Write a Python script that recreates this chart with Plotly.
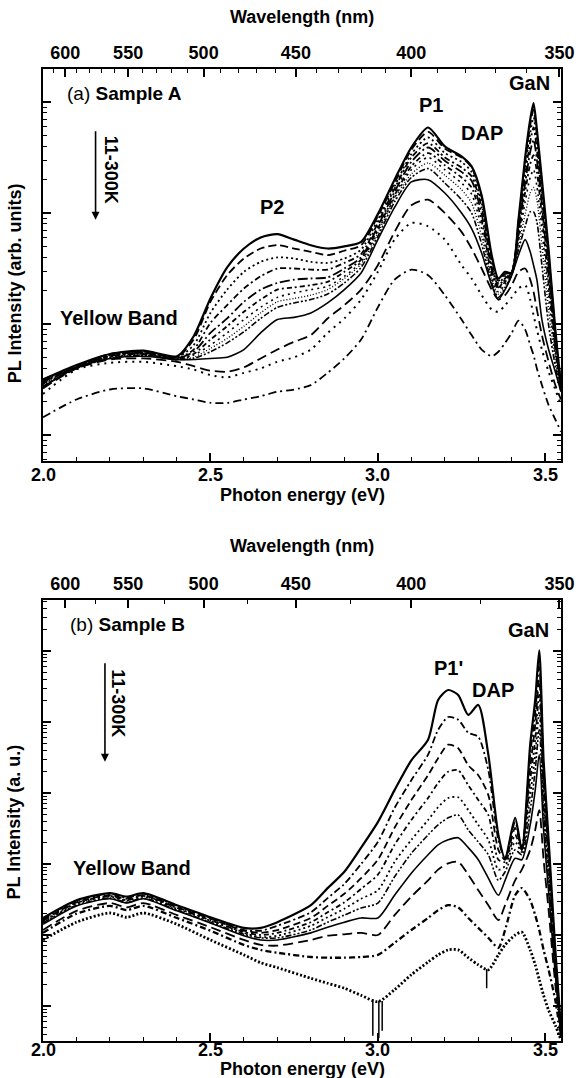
import numpy as np
import plotly.graph_objects as go

# ---------------- Panel (a): Sample A ----------------
# photon energy grid (eV)
energy_a = [2.00, 2.10, 2.20, 2.30, 2.40, 2.45, 2.50, 2.55, 2.60, 2.65, 2.70, 2.75, 2.80, 2.85,
            2.90, 2.95, 3.00, 3.05, 3.10, 3.15, 3.20, 3.25, 3.28, 3.31, 3.34, 3.36, 3.38, 3.40,
            3.42, 3.44, 3.455, 3.465, 3.475, 3.49, 3.51, 3.53, 3.547]
# log10 PL intensity (arb. units), 11 K (top) -> 300 K (bottom)
a_c1 = [0.50, 0.63, 0.73, 0.76, 0.71, 0.89, 1.23, 1.51, 1.68, 1.78, 1.81, 1.76, 1.71, 1.68, 1.70, 1.74, 1.99, 2.30, 2.59, 2.77, 2.60, 2.51, 2.42, 2.16, 1.62, 1.41, 1.47, 1.46, 1.94, 2.50, 2.84, 2.99, 2.75, 2.30, 1.67, 0.95, 0.45]
a_c2 = [0.50, 0.62, 0.73, 0.75, 0.70, 0.86, 1.20, 1.44, 1.59, 1.68, 1.71, 1.68, 1.65, 1.62, 1.66, 1.71, 1.97, 2.27, 2.57, 2.73, 2.58, 2.50, 2.41, 2.14, 1.59, 1.39, 1.45, 1.47, 1.92, 2.46, 2.79, 2.93, 2.70, 2.25, 1.62, 0.93, 0.44]
a_c3 = [0.50, 0.62, 0.72, 0.75, 0.70, 0.81, 1.10, 1.31, 1.47, 1.56, 1.60, 1.59, 1.56, 1.55, 1.59, 1.67, 1.94, 2.24, 2.53, 2.68, 2.54, 2.46, 2.37, 2.09, 1.56, 1.37, 1.43, 1.47, 1.89, 2.41, 2.72, 2.86, 2.64, 2.21, 1.58, 0.90, 0.44]
a_c4 = [0.49, 0.61, 0.72, 0.74, 0.69, 0.77, 1.01, 1.17, 1.32, 1.43, 1.50, 1.50, 1.49, 1.49, 1.55, 1.63, 1.91, 2.22, 2.50, 2.63, 2.50, 2.41, 2.33, 2.05, 1.52, 1.35, 1.41, 1.47, 1.86, 2.34, 2.64, 2.77, 2.57, 2.14, 1.51, 0.86, 0.43]
a_c5 = [0.48, 0.61, 0.71, 0.74, 0.69, 0.75, 0.92, 1.05, 1.20, 1.31, 1.37, 1.40, 1.41, 1.42, 1.50, 1.60, 1.88, 2.19, 2.46, 2.59, 2.47, 2.37, 2.29, 1.99, 1.49, 1.33, 1.40, 1.46, 1.83, 2.27, 2.55, 2.66, 2.48, 2.07, 1.44, 0.81, 0.42]
a_c6 = [0.47, 0.61, 0.71, 0.73, 0.68, 0.73, 0.86, 0.98, 1.11, 1.22, 1.31, 1.33, 1.35, 1.38, 1.47, 1.58, 1.86, 2.16, 2.42, 2.54, 2.43, 2.32, 2.23, 1.93, 1.45, 1.32, 1.38, 1.46, 1.79, 2.19, 2.44, 2.52, 2.37, 1.98, 1.35, 0.77, 0.41]
a_c7 = [0.46, 0.60, 0.70, 0.73, 0.68, 0.72, 0.81, 0.92, 1.04, 1.15, 1.24, 1.28, 1.31, 1.34, 1.43, 1.56, 1.84, 2.14, 2.39, 2.50, 2.39, 2.27, 2.17, 1.86, 1.41, 1.29, 1.36, 1.45, 1.75, 2.10, 2.32, 2.39, 2.24, 1.86, 1.25, 0.72, 0.41]
a_c8 = [0.45, 0.60, 0.70, 0.72, 0.68, 0.70, 0.78, 0.87, 0.98, 1.10, 1.20, 1.23, 1.26, 1.31, 1.41, 1.54, 1.82, 2.13, 2.35, 2.45, 2.34, 2.21, 2.09, 1.79, 1.40, 1.27, 1.34, 1.45, 1.70, 1.99, 2.18, 2.23, 2.12, 1.71, 1.13, 0.68, 0.40]
a_c9 = [0.44, 0.60, 0.69, 0.72, 0.68, 0.69, 0.75, 0.83, 0.93, 1.05, 1.15, 1.19, 1.22, 1.27, 1.37, 1.51, 1.79, 2.10, 2.32, 2.40, 2.27, 2.12, 2.00, 1.72, 1.37, 1.24, 1.32, 1.44, 1.67, 1.88, 2.01, 2.01, 1.92, 1.53, 0.99, 0.62, 0.39]
a_c10 = [0.43, 0.61, 0.69, 0.71, 0.68, 0.68, 0.69, 0.70, 0.77, 0.92, 1.04, 1.06, 1.10, 1.19, 1.31, 1.46, 1.76, 2.05, 2.28, 2.30, 2.18, 2.00, 1.86, 1.64, 1.35, 1.22, 1.31, 1.44, 1.62, 1.76, 1.65, 1.53, 1.40, 1.04, 0.77, 0.57, 0.39]
a_c11 = [0.42, 0.60, 0.68, 0.69, 0.66, 0.62, 0.58, 0.57, 0.61, 0.69, 0.77, 0.84, 0.90, 1.05, 1.17, 1.31, 1.53, 1.83, 2.07, 2.12, 2.00, 1.83, 1.68, 1.50, 1.31, 1.22, 1.26, 1.35, 1.47, 1.50, 1.40, 1.29, 1.13, 0.90, 0.66, 0.45, 0.32]
a_c12 = [0.37, 0.59, 0.65, 0.66, 0.62, 0.59, 0.54, 0.52, 0.56, 0.60, 0.66, 0.70, 0.77, 0.92, 1.05, 1.22, 1.47, 1.76, 1.91, 1.88, 1.76, 1.53, 1.41, 1.26, 1.13, 1.11, 1.17, 1.24, 1.32, 1.35, 1.22, 1.08, 0.95, 0.77, 0.57, 0.41, 0.27]
a_c13 = [0.16, 0.32, 0.41, 0.42, 0.35, 0.32, 0.29, 0.29, 0.32, 0.35, 0.39, 0.41, 0.45, 0.56, 0.69, 0.86, 1.15, 1.40, 1.49, 1.44, 1.26, 1.04, 0.90, 0.77, 0.71, 0.75, 0.83, 0.92, 1.03, 0.95, 0.81, 0.72, 0.60, 0.45, 0.27, 0.14, 0.03]

# ---------------- Panel (b): Sample B ----------------
energy_b = [2.00, 2.10, 2.20, 2.25, 2.30, 2.40, 2.50, 2.60, 2.65, 2.70, 2.80, 2.85, 2.90, 2.95,
            3.00, 3.05, 3.10, 3.15, 3.18, 3.21, 3.24, 3.27, 3.30, 3.33, 3.36, 3.38, 3.41, 3.43,
            3.455, 3.47, 3.482, 3.495, 3.51, 3.53, 3.547]
b_c1 = [1.24, 1.49, 1.59, 1.54, 1.59, 1.42, 1.25, 1.10, 1.10, 1.18, 1.42, 1.66, 1.89, 2.23, 2.59, 3.04, 3.46, 3.75, 4.31, 4.45, 4.38, 4.10, 4.24, 3.54, 2.41, 2.08, 2.65, 2.20, 3.68, 4.31, 5.01, 3.46, 2.34, 0.79, -0.34]
b_c2 = [1.23, 1.48, 1.58, 1.52, 1.58, 1.41, 1.24, 1.07, 1.06, 1.13, 1.32, 1.52, 1.72, 2.00, 2.31, 2.79, 3.18, 3.54, 3.89, 4.07, 4.03, 3.85, 3.79, 3.32, 2.34, 2.08, 2.59, 2.23, 3.54, 4.14, 4.80, 3.32, 2.23, 0.72, -0.34]
b_c3 = [1.21, 1.46, 1.56, 1.51, 1.56, 1.39, 1.23, 1.06, 1.03, 1.07, 1.24, 1.41, 1.58, 1.80, 2.06, 2.51, 2.90, 3.25, 3.49, 3.68, 3.63, 3.39, 3.25, 2.97, 2.20, 2.06, 2.51, 2.23, 3.35, 3.96, 4.59, 3.18, 2.13, 0.68, -0.35]
b_c4 = [1.20, 1.45, 1.55, 1.49, 1.55, 1.38, 1.21, 1.04, 1.00, 1.03, 1.18, 1.32, 1.46, 1.65, 1.85, 2.27, 2.62, 2.93, 3.14, 3.30, 3.32, 3.11, 2.90, 2.69, 2.06, 2.03, 2.41, 2.20, 3.18, 3.75, 4.38, 3.04, 2.03, 0.62, -0.37]
b_c5 = [1.18, 1.44, 1.54, 1.48, 1.54, 1.37, 1.20, 1.03, 0.97, 0.99, 1.13, 1.25, 1.37, 1.51, 1.63, 2.03, 2.34, 2.62, 2.80, 2.93, 2.94, 2.76, 2.55, 2.34, 1.92, 1.97, 2.31, 2.17, 2.97, 3.54, 4.14, 2.90, 1.92, 0.56, -0.38]
b_c6 = [1.17, 1.42, 1.52, 1.46, 1.52, 1.35, 1.18, 1.01, 0.96, 0.96, 1.07, 1.18, 1.28, 1.38, 1.45, 1.82, 2.15, 2.41, 2.55, 2.65, 2.69, 2.48, 2.31, 2.13, 1.77, 1.89, 2.20, 2.13, 2.76, 3.32, 3.89, 2.73, 1.77, 0.51, -0.39]
b_c7 = [1.15, 1.41, 1.51, 1.45, 1.51, 1.34, 1.17, 0.99, 0.93, 0.93, 1.03, 1.11, 1.18, 1.24, 1.24, 1.56, 1.87, 2.13, 2.27, 2.34, 2.37, 2.23, 2.06, 1.80, 1.56, 1.77, 2.08, 2.06, 2.55, 3.04, 3.54, 2.48, 1.61, 0.44, -0.41]
b_c8 = [1.07, 1.34, 1.45, 1.39, 1.45, 1.28, 1.11, 0.93, 0.86, 0.85, 0.93, 0.99, 1.01, 1.03, 1.00, 1.28, 1.54, 1.77, 1.92, 2.01, 2.03, 1.85, 1.63, 1.42, 1.21, 1.42, 1.77, 1.92, 2.20, 2.48, 2.76, 2.06, 1.35, 0.30, -0.42]
b_c9 = [1.03, 1.30, 1.41, 1.35, 1.41, 1.24, 1.06, 0.86, 0.79, 0.75, 0.69, 0.68, 0.68, 0.69, 0.72, 0.89, 1.07, 1.24, 1.35, 1.42, 1.39, 1.24, 1.10, 0.96, 0.82, 1.07, 1.56, 1.66, 1.49, 1.28, 1.07, 0.79, 0.51, 0.08, -0.44]
b_c10 = [0.93, 1.18, 1.31, 1.25, 1.31, 1.15, 0.93, 0.72, 0.61, 0.54, 0.39, 0.32, 0.25, 0.15, 0.06, 0.23, 0.44, 0.62, 0.72, 0.79, 0.79, 0.68, 0.58, 0.51, 0.72, 0.86, 1.00, 1.04, 0.79, 0.58, 0.37, 0.15, -0.06, -0.27, -0.48]
# noise spikes on the 300 K trace of sample B
spike_energy = [2.985, 3.003, 3.013, 3.325]
spike_top = [0.10, 0.07, 0.07, 0.52]
spike_bottom = [-0.42, -0.45, -0.35, 0.25]

# axis tick labels
energy_ticks = [2.0, 2.5, 3.0, 3.5]
energy_ticktext = ["2.0", "2.5", "3.0", "3.5"]
wavelength_major = [600, 550, 500, 450, 400, 350]

HC = 1239.84  # eV*nm

curves_a = [a_c1, a_c2, a_c3, a_c4, a_c5, a_c6, a_c7, a_c8, a_c9, a_c10, a_c11, a_c12, a_c13]
dash_a = ["solid", "8px,4px", "2px,3px", "6px,3px,2px,3px", "10px,3px,2px,3px", "5px,3px,2px,3px",
          "2px,4px", "1px,2px", "6px,2px,2px,2px,2px,2px", "solid", "10px,5px", "2px,5px", "8px,4px,2px,4px"]
width_a = [2.2, 1.8, 1.8, 1.8, 1.8, 1.8, 1.6, 1.4, 1.6, 1.6, 1.8, 2.0, 1.8]

curves_b = [b_c1, b_c2, b_c3, b_c4, b_c5, b_c6, b_c7, b_c8, b_c9, b_c10]
dash_b = ["solid", "7px,3px,2px,3px", "7px,4px", "5px,3px,2px,3px", "2px,3px",
          "6px,2px,2px,2px,2px,2px", "solid", "10px,5px", "6px,3px,2px,3px", "2px,2px"]
width_b = [2.2, 1.8, 1.8, 1.8, 1.8, 1.6, 1.6, 1.8, 2.3, 2.8]

FONT = "Liberation Sans, Arial, Helvetica, sans-serif"
fig = go.Figure()

for i, vals in enumerate(curves_a):
    fig.add_trace(go.Scatter(
        x=energy_a, y=np.power(10.0, vals), mode="lines",
        line=dict(color="black", width=width_a[i], dash=dash_a[i], shape="spline", smoothing=0.7),
        xaxis="x3" if i == 0 else "x", yaxis="y", showlegend=False, hoverinfo="skip"))

for i, vals in enumerate(curves_b):
    fig.add_trace(go.Scatter(
        x=energy_b, y=np.power(10.0, vals), mode="lines",
        line=dict(color="black", width=width_b[i], dash=dash_b[i], shape="spline", smoothing=0.7),
        xaxis="x4" if i == 0 else "x2", yaxis="y2", showlegend=False, hoverinfo="skip"))

sx, sy = [], []
for e, t, b in zip(spike_energy, spike_top, spike_bottom):
    sx += [e, e, None]
    sy += [10 ** t, 10 ** b, None]
fig.add_trace(go.Scatter(x=sx, y=sy, mode="lines", line=dict(color="black", width=1.5),
                         xaxis="x2", yaxis="y2", showlegend=False, hoverinfo="skip"))

tickfont = dict(family=FONT, size=18, color="black", weight="bold")
E_RANGE = [2.0, 3.547]
minor_e = [round(2.0 + 0.1 * k, 2) for k in range(16) if round(2.0 + 0.1 * k, 2) not in energy_ticks]
wl_major_e = [HC / w for w in wavelength_major]
wl_minor_a = [HC / w for w in range(350, 611, 10) if w not in wavelength_major]
wl_minor_b = [HC / w for w in (575, 525, 475, 425, 375)]


def bottom_axis(anchor):
    return dict(domain=[0, 1], anchor=anchor, range=E_RANGE, tickmode="array", tickvals=energy_ticks,
                showticklabels=False, ticks="inside", ticklen=8, tickwidth=1.5, tickcolor="black",
                minor=dict(tickmode="array", tickvals=minor_e, ticks="inside", ticklen=4, tickwidth=1.3,
                           tickcolor="black", showgrid=False),
                showline=True, linewidth=2, linecolor="black", mirror=False, showgrid=False,
                zeroline=False)


def top_axis(over, anchor, minor_vals):
    return dict(overlaying=over, anchor=anchor, side="top", range=E_RANGE, tickmode="array",
                tickvals=wl_major_e, ticktext=[str(w) for w in wavelength_major],
                ticks="inside", ticklen=8, tickwidth=1.5, tickcolor="black",
                minor=dict(tickmode="array", tickvals=minor_vals, ticks="inside", ticklen=4, tickwidth=1.3,
                           tickcolor="black", showgrid=False),
                showline=True, linewidth=2, linecolor="black", showgrid=False, zeroline=False,
                tickfont=tickfont, ticklabelstandoff=1)


def log_axis(domain, anchor, rng, decades):
    majors = [10.0 ** d for d in decades]
    minors = [k * 10.0 ** d for d in range(decades[0] - 1, decades[-1] + 1) for k in range(2, 10)]
    return dict(domain=domain, anchor=anchor, type="log", range=rng, tickmode="array", tickvals=majors,
                showticklabels=False, ticks="inside", ticklen=8, tickwidth=1.5, tickcolor="black",
                minor=dict(tickmode="array", tickvals=minors, ticks="inside", ticklen=4, tickwidth=1.2,
                           tickcolor="black", showgrid=False),
                showline=True, linewidth=2, linecolor="black", mirror="ticks", showgrid=False,
                zeroline=False)


fig.update_layout(
    width=586, height=1078, autosize=False,
    margin=dict(l=43, r=17, t=69, b=37),
    paper_bgcolor="white", plot_bgcolor="white",
    font=dict(family=FONT, color="black"),
    xaxis=bottom_axis("y"),
    xaxis3=top_axis("x", "y", wl_minor_a),
    yaxis=log_axis([0.5967, 1.0], "x", [-0.234, 3.297], [0, 1, 2, 3]),
    xaxis2=bottom_axis("y2"),
    xaxis4=top_axis("x2", "y2", wl_minor_b),
    yaxis2=log_axis([0.0, 0.4537], "x2", [-0.493, 5.718], [0, 1, 2, 3, 4, 5]),
)

bold = dict(family=FONT, size=20, color="black", weight="bold")
title_font = dict(family=FONT, size=18, color="black", weight="bold")
annots = []


def txt(text, x, y, xref, yref, **kw):
    d = dict(text=text, x=x, y=y, xref=xref, yref=yref, showarrow=False, font=kw.pop("font", bold),
             xanchor="center", yanchor="middle")
    d.update(kw)
    annots.append(d)


# bottom energy tick labels, set close under each frame as in the original
for v, t in zip(energy_ticks, energy_ticktext):
    txt(t, v, 0.5823, "x", "paper", font=tickfont)
    txt(t, v, -0.0093, "x2", "paper", font=tickfont)

# titles (paper coordinates)
txt("Wavelength (nm)", 0.5, 1.0535, "paper", "paper", font=title_font)
txt("Photon energy (eV)", 0.5, 0.5617, "paper", "paper", font=title_font)
txt("Wavelength (nm)", 0.5, 0.5093, "paper", "paper", font=title_font)
txt("Photon energy (eV)", 0.5, -0.0284, "paper", "paper", font=title_font)
txt("PL Intensity (arb. units)", -0.0551, 0.780, "paper", "paper", textangle=-90, font=title_font)
txt("PL Intensity (a. u.)", -0.0551, 0.2253, "paper", "paper", textangle=-90, font=title_font)

# panel (a) labels
reg = dict(family=FONT, size=19, color="black", weight="normal")
txt("(a) <b>Sample A</b>", 2.065, 3.08, "x", "y", font=reg, xanchor="left")
txt("P2", 2.685, 2.05, "x", "y")
txt("P1", 3.159, 2.97, "x", "y")
txt("DAP", 3.312, 2.72, "x", "y")
txt("GaN", 3.453, 3.17, "x", "y")
txt("Yellow Band", 2.044, 1.05, "x", "y", xanchor="left")
txt("11-300K", 2.203, 2.39, "x", "y", textangle=90, font=dict(family=FONT, size=18, color="black", weight="bold"))
annots.append(dict(x=2.157, y=1.94, ax=2.157, ay=2.75, xref="x", yref="y", axref="x", ayref="y",
                   showarrow=True, arrowhead=2, arrowsize=1, arrowwidth=1.6, arrowcolor="black", text=""))

# panel (b) labels
txt("(b) <b>Sample B</b>", 2.076, 5.37, "x2", "y2", font=reg, xanchor="left")
txt("Yellow Band", 2.085, 1.94, "x2", "y2", xanchor="left")
txt("11-300K", 2.226, 4.27, "x2", "y2", textangle=90, font=dict(family=FONT, size=18, color="black", weight="bold"))
annots.append(dict(x=2.185, y=3.44, ax=2.185, ay=4.85, xref="x2", yref="y2", axref="x2", ayref="y2",
                   showarrow=True, arrowhead=2, arrowsize=1, arrowwidth=1.6, arrowcolor="black", text=""))
txt("P1'", 3.212, 4.76, "x2", "y2")
txt("DAP", 3.344, 4.45, "x2", "y2")
txt("GaN", 3.450, 5.30, "x2", "y2")

fig.update_layout(annotations=annots)
# flush page (no default body margin), fixed figure size, no mode bar
post = ("document.body.style.margin='0px';document.body.style.padding='0px';"
        "document.body.style.overflow='hidden';"
        "var gd=document.getElementById('{plot_id}');"
        "Plotly.relayout(gd,{width:586,height:1078});")
fig.write_html("out.html", config={"displayModeBar": False, "responsive": False},
               post_script=post)
